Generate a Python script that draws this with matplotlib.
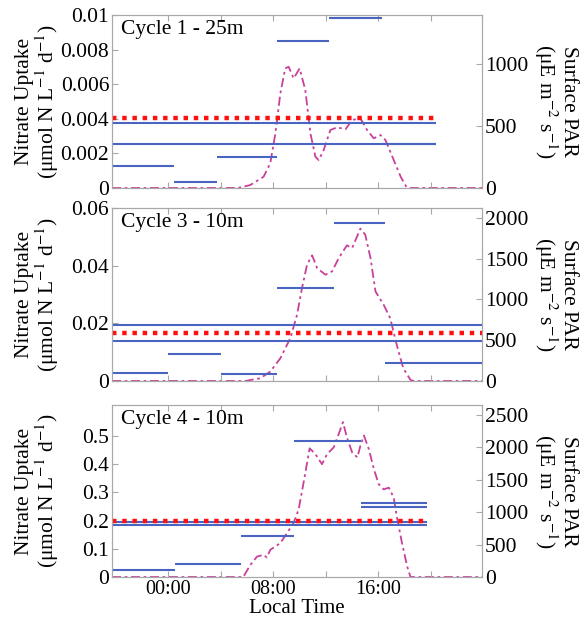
import matplotlib
matplotlib.use("Agg")
import matplotlib.pyplot as plt
from matplotlib.ticker import FormatStrFormatter

plt.rcParams['font.family'] = ['Liberation Serif', 'DejaVu Serif']
plt.rcParams['mathtext.fontset'] = 'stix'

# ---- data (hours, local time; negative = evening before) ----
cycles = ['Cycle 1 - 25m', 'Cycle 3 - 10m', 'Cycle 4 - 10m']

# incubation segments: start, end, nitrate uptake
c1_start = [-4.3, 0.4, 3.7, 8.3, 12.2, 16.3]
c1_end = [0.4, 3.7, 8.3, 12.2, 16.3, 20.4]
c1_uptake = [0.00125, 0.00035, 0.0018, 0.0085, 0.00985, 0.00254]
c1_blue = [0.00373, 0.00252]
c1_red = 0.00402
c1_daily_end = 20.4

c3_start = [-4.3, 0.0, 4.0, 8.3, 12.6, 16.5]
c3_end = [0.0, 4.0, 8.3, 12.6, 16.5, 23.9]
c3_uptake = [0.0029, 0.0094, 0.0026, 0.0324, 0.0547, 0.0063]
c3_blue = [0.0194, 0.0139]
c3_red = 0.0167
c3_daily_end = 23.9

c4_start = [-4.3, 0.5, 5.5, 9.6, 14.7, 14.7]
c4_end = [0.5, 5.5, 9.6, 14.7, 19.7, 19.7]
c4_uptake = [0.0244, 0.045, 0.144, 0.482, 0.263, 0.248]
c4_blue = [0.194, 0.184]
c4_red = 0.198
c4_daily_end = 19.7

# surface PAR
c1_par_t = [-4.3, 5.3, 6.24, 7.25, 7.76, 8.15, 8.53, 8.9, 9.16, 9.54, 10.0, 10.43, 10.82,
            11.2, 11.45, 11.83, 12.34, 12.86, 13.49, 14.0, 14.63, 15.14, 15.65, 16.15,
            16.54, 17.17, 17.7, 18.15, 18.4, 23.9]
c1_par = [0, 0, 24, 91, 200, 442, 766, 968, 981, 887, 968, 793, 442,
          253, 226, 307, 469, 491, 475, 550, 564, 469, 402, 429,
          388, 226, 91, 6, 0, 0]

c3_par_t = [-4.3, 5.9, 6.24, 7.0, 7.76, 8.53, 9.29, 9.8, 10.18, 10.56, 10.95, 11.33, 11.96,
            12.47, 12.98, 13.6, 14.0, 14.63, 15.0, 15.4, 15.78, 16.4, 16.9, 17.4, 17.9,
            18.45, 18.7, 23.9]
c3_par = [0, 0, 12, 33, 115, 279, 525, 811, 1139, 1425, 1540, 1385, 1302,
          1343, 1507, 1662, 1630, 1867, 1793, 1507, 1097, 934, 770, 442, 156,
          12, 0, 0]

c4_par_t = [-4.3, 5.7, 6.24, 6.75, 7.25, 7.5, 7.76, 8.53, 9.04, 9.54, 9.92, 10.3, 10.76,
            11.2, 11.7, 12.09, 12.6, 12.98, 13.3, 13.6, 14.0, 14.4, 14.63, 14.9, 15.27,
            15.66, 16.03, 16.4, 16.8, 17.17, 17.4, 17.8, 18.2, 18.45, 23.9]
c4_par = [0, 0, 186, 315, 342, 300, 419, 523, 679, 834, 1040, 1455, 1983,
          1894, 1739, 1894, 1998, 2205, 2386, 2154, 1920, 1843, 2024, 2179, 1972,
          1661, 1429, 1351, 1377, 1222, 937, 523, 160, 0, 0]

left_ylim = [0.01, 0.06, 0.61]
left_ticks = [[0, 0.002, 0.004, 0.006, 0.008, 0.01],
              [0, 0.02, 0.04, 0.06],
              [0, 0.1, 0.2, 0.3, 0.4, 0.5]]
right_ylim = [1400, 2120, 2650]
right_ticks = [[0, 500, 1000],
               [0, 500, 1000, 1500, 2000],
               [0, 500, 1000, 1500, 2000, 2500]]

x_ticks = [0, 4, 8, 12, 16, 20]
x_ticklabels = ['00:00', '', '08:00', '', '16:00', '']

panels = [
    (c1_start, c1_end, c1_uptake, c1_blue, c1_red, c1_daily_end, c1_par_t, c1_par),
    (c3_start, c3_end, c3_uptake, c3_blue, c3_red, c3_daily_end, c3_par_t, c3_par),
    (c4_start, c4_end, c4_uptake, c4_blue, c4_red, c4_daily_end, c4_par_t, c4_par),
]

BLUE = '#4a64c2'
RED = '#ff1010'
PAR_COL = '#c8409a'
GRID_COL = '#a8a8a8'

fig = plt.figure(figsize=(5.85, 6.18), dpi=100)

# axes boxes in figure fractions (left, bottom, width, height)
boxes = [(0.1915, 0.6958, 0.6325, 0.2799),
         (0.1915, 0.3835, 0.6325, 0.2799),
         (0.1915, 0.0663, 0.6325, 0.2783)]

for i, (st, en, up, blue, red, dend, pt, par) in enumerate(panels):
    ax = fig.add_axes(boxes[i])
    axr = ax.twinx()
    ax.set_zorder(axr.get_zorder() + 1)
    ax.patch.set_visible(False)

    # PAR on the right axis
    axr.plot(pt, par, color=PAR_COL, lw=1.3, linestyle=(0, (5, 2, 1.5, 2)))
    axr.set_ylim(0, right_ylim[i])
    axr.set_yticks(right_ticks[i])

    # incubation segments
    ax.hlines(up, st, en, color=BLUE, lw=1.5)
    # daily rates
    ax.hlines(blue, -4.3, dend, color=BLUE, lw=1.5)
    ax.plot([-4.3, dend], [red, red], color=RED, lw=3.2,
            linestyle=(0, (1, 1.3)), dash_capstyle='butt')

    ax.set_xlim(-4.3, 23.9)
    ax.set_ylim(0, left_ylim[i])
    ax.set_yticks(left_ticks[i])
    ax.yaxis.set_major_formatter(FormatStrFormatter('%g'))
    ax.set_xticks(x_ticks)
    if i == 2:
        ax.set_xticklabels(x_ticklabels)
        ax.set_xlabel('Local Time', fontsize=15, labelpad=0)
    else:
        ax.set_xticklabels([])

    for a in (ax, axr):
        for s in a.spines.values():
            s.set_color(GRID_COL)
            s.set_linewidth(0.8)
        a.tick_params(direction='in', color=GRID_COL, length=4, pad=2)
        a.tick_params(axis='y', labelsize=15.5)
        a.tick_params(axis='x', labelsize=14.5)
    ax.tick_params(top=True)

    ax.text(0.024, 0.915, cycles[i], transform=ax.transAxes, fontsize=15.5,
            va='center', ha='left')

    ax.set_ylabel('Nitrate Uptake\n(μmol N L$^{-1}$ d$^{-1}$)', fontsize=15.5,
                  linespacing=0.95, rotation_mode='anchor', ha='center', va='center')
    ax.yaxis.set_label_coords(-0.2, 0.5)
    axr.set_ylabel('Surface PAR\n(μE m$^{-2}$ s$^{-1}$)', fontsize=15.5,
                   rotation=270, linespacing=0.95, rotation_mode='anchor',
                   ha='center', va='center')
    axr.yaxis.set_label_coords(1.197, 0.5)

fig.savefig('out.png', dpi=100)
